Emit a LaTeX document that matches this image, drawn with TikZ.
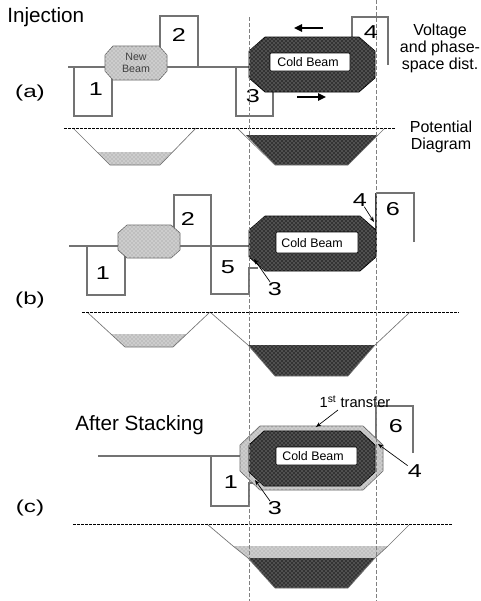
\documentclass[tikz,border=0pt]{standalone}
\usepackage{fontspec}
\setmainfont{Liberation Sans}
\usetikzlibrary{patterns,arrows.meta}
\newcommand{\octa}[7][]{\draw[#1] (#2+#6,#3) -- (#4-#6,#3) -- (#4,#3+#7) -- (#4,#5-#7) -- (#4-#6,#5) -- (#2+#6,#5) -- (#2,#5-#7) -- (#2,#3+#7) -- cycle;}
\begin{document}
\begin{tikzpicture}[x=0.75pt,y=-0.75pt,
  volt/.style={draw=black!55, line width=0.8pt},
  well/.style={draw=black!55, line width=0.5pt},
  potl/.style={draw=black, line width=0.6pt, dash pattern=on 2pt off 1pt},
  guide/.style={draw=black!50, line width=0.6pt, dash pattern=on 3pt off 1.5pt},
  darkbeam/.style={draw=black, line width=0.5pt, fill=black!80, postaction={pattern=crosshatch dots, pattern color=white!70!black}},
  lightbeam/.style={draw=black!60, line width=0.5pt, fill=black!25, postaction={pattern=crosshatch dots, pattern color=white}},
  darkfill/.style={fill=black!80, postaction={pattern=crosshatch dots, pattern color=white!70!black}},
  lightfill/.style={fill=black!25, postaction={pattern=crosshatch dots, pattern color=white}},
  coreface/.style={fill=white, rounded corners=1pt},
  num/.style={font=\fontsize{14}{14}\selectfont, inner sep=0pt, xscale=1.35},
  panel/.style={font=\fontsize{13}{13}\selectfont, inner sep=0pt, xscale=1.4},
  title/.style={font=\fontsize{15.5}{16}\selectfont, inner sep=0pt},
  side/.style={font=\fontsize{12}{12.8}\selectfont, align=center, inner sep=0pt},
  beamtxt/.style={font=\fontsize{9.3}{9.3}\selectfont, inner sep=0pt},
  newtxt/.style={font=\fontsize{8}{8.5}\selectfont, align=center, inner sep=0pt, text=black!75},
  ptr/.style={draw=black, line width=0.5pt, -{Stealth[length=4pt,width=3pt]}},
  flow/.style={draw=black, line width=1.6pt, -{Triangle[length=6pt,width=5.5pt]}}
]
\useasboundingbox (0,0) rectangle (480,601);

% ---------------- titles and side labels
\node[title, anchor=base west] (tinj) at (7,22) {Injection};
\node[title, anchor=base west] (tstack) at (75,430) {After Stacking};
\node[panel] (pa) at (30,93) {(a)};
\node[panel] (pb) at (30,300) {(b)};
\node[panel] (pc) at (30,508) {(c)};
\node[side] (volttxt) at (440,48) {Voltage\\and phase-\\space dist.};
\node[side] (pottxt) at (441,137) {Potential\\Diagram};

% ================= panel (a)
\draw[volt] (68,67) -- (249,67);
\draw[volt] (74,67) -- (74,116) -- (112,116) -- (112,67);
\draw[volt] (160,67) -- (160,16) -- (198,16) -- (198,67);
\draw[volt] (236,67) -- (236,116) -- (273,116) -- (273,90);
\draw[volt] (352,40) -- (352,17) -- (388,17) -- (388,65);
\octa[lightbeam]{105}{46}{167}{80}{8}{9}
\node[newtxt] (newa) at (136,63) {New\\Beam};
\octa[darkbeam]{249}{37}{375}{92}{16}{14}
\draw[coreface] (270,53) rectangle (350,71);
\node[beamtxt] (colda) at (308,62) {Cold Beam};
\coordinate (fla1) at (323,28); \coordinate (fla2) at (294,28);
\coordinate (frb1) at (297,97); \coordinate (frb2) at (326,97);
\draw[flow] (fla1) -- (fla2);
\draw[flow] (frb1) -- (frb2);
\node[num] (a1) at (96,89) {1};
\node[num] (a2) at (179,35) {2};
\node[num] (a3) at (253,96) {3};
\node[num] (a4) at (371,32) {4};
% potential (a)
\fill[lightfill] (97,152) -- (172,152) -- (160,165) -- (110,165) -- cycle;
\fill[darkfill] (246,135) -- (378,135) -- (348,165) -- (275,165) -- cycle;
\draw[well] (73,128) -- (110,165) -- (160,165) -- (196,128);
\draw[well] (237,128) -- (275,165) -- (348,165) -- (385,128);
\draw[potl] (64,128) -- (395,128);

% ================= panel (b)
\draw[volt] (69,246) -- (249,246);
\draw[volt] (87,246) -- (87,295) -- (125,295) -- (125,246);
\draw[volt] (174,246) -- (174,195) -- (211,195) -- (211,246);
\draw[volt] (211,246) -- (211,294) -- (249,294) -- (249,268) -- (258,268);
\draw[volt] (414,242) -- (414,193) -- (376,193);
\draw[draw=black!75, line width=0.9pt] (376,193) -- (376,253);
\octa[lightbeam]{118}{225}{180}{258}{9}{8}
\octa[darkbeam]{249}{216}{376}{271}{16}{14}
\draw[coreface] (276,232) rectangle (358,253);
\node[beamtxt] (coldb) at (312,243) {Cold Beam};
\node[num] (b1) at (103,273) {1};
\node[num] (b2) at (188,219) {2};
\node[num] (b5) at (228,267) {5};
\node[num] (b3) at (275,289) {3};
\node[num] (b4) at (360,200) {4};
\node[num] (b6) at (393,209) {6};
\coordinate (b3t) at (254,259);
\coordinate (b4t) at (374,222);
\draw[ptr] (b3) -- (b3t);
\draw[ptr] (b4) -- (b4t);
% potential (b)
\fill[lightfill] (111,334) -- (187,334) -- (173,347) -- (125,347) -- cycle;
\fill[darkfill] (248,345) -- (375,345) -- (348,376) -- (275,376) -- cycle;
\draw[well] (87,312) -- (125,347) -- (173,347) -- (210,312);
\draw[well] (210,312) -- (248,345) -- (275,376) -- (348,376) -- (375,345) -- (410,312);
\draw[potl] (82,312) -- (459,312);

% ================= panel (c)
\draw[volt] (98,456) -- (240,456);
\draw[volt] (211,456) -- (211,506) -- (249,506) -- (249,483) -- (255,483);
\draw[volt] (413,453) -- (413,406) -- (376,406) -- (376,440);
\octa[lightbeam]{240}{426}{383}{490}{20}{19}
\octa[darkbeam]{249}{431}{375}{486}{15}{14}
\draw[coreface] (276,447) rectangle (357,465);
\node[beamtxt] (coldc) at (313,456) {Cold Beam};
\node[num] (c1) at (231,482) {1};
\node[num] (c3) at (275,508) {3};
\node[num] (c4) at (415,471) {4};
\node[num] (c6) at (396,426) {6};
\node[font=\fontsize{11}{11}\selectfont, inner sep=0pt] (ctr) at (355,402) {1\textsuperscript{st} transfer};
\coordinate (c3t) at (255,480);
\coordinate (c4t) at (378,444);
\coordinate (ctrt) at (316,427);
\coordinate (ctrs) at (338,410);
\draw[ptr] (c3) -- (c3t);
\draw[ptr] (c4) -- (c4t);
\draw[ptr] (ctrs) -- (ctrt);
% potential (c)
\fill[lightfill] (233,546) -- (388,546) -- (375,558) -- (248,558) -- cycle;
\fill[darkfill] (248,558) -- (375,558) -- (348,588) -- (275,588) -- cycle;
\draw[well] (207,524) -- (233,546) -- (248,558) -- (275,588) -- (348,588) -- (375,558) -- (388,546) -- (410,524);
\draw[potl] (73,524) -- (452,524);

% ---------------- vertical guides
\draw[guide] (249,17) -- (249,601);
\draw[guide] (376,0) -- (376,601);
\end{tikzpicture}
\end{document}
